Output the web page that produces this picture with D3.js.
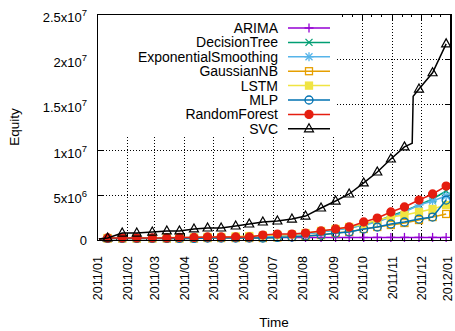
<!DOCTYPE html>
<html>
<head>
<meta charset="utf-8">
<script src="https://cdn.jsdelivr.net/npm/d3@7"></script>
<style>
body { margin: 0; background: #fff; }
text { font-family: "Liberation Sans", Arial, sans-serif; fill: #000; }
</style>
</head>
<body>
<div id="chart"></div>
<script>
var seriesNames = ["ARIMA", "DecisionTree", "ExponentialSmoothing", "GaussianNB", "LSTM", "MLP", "RandomForest", "SVC"]
var seriesColors = ["#9400d3", "#009e73", "#56b4e9", "#e69f00", "#f0e442", "#0072b2", "#e51e10", "#000000"]
var seriesMarks = ["plus", "cross", "star", "square", "squareFill", "circle", "circleFill", "triangle"]

var startDate = "2011-01-03"
var startValues = [1e5, 1e5, 1e5, 1e5, 1e5, 1e5, 1e5, 1e5]

var markDates = ["2011-01-12", "2011-01-27", "2011-02-11", "2011-02-27", "2011-03-14", "2011-03-27", "2011-04-11",
    "2011-04-25", "2011-05-09", "2011-05-24", "2011-06-07", "2011-06-21", "2011-07-06", "2011-07-21", "2011-08-04",
    "2011-08-20", "2011-09-04", "2011-09-18", "2011-10-03", "2011-10-17", "2011-10-31", "2011-11-14", "2011-11-29",
    "2011-12-13", "2011-12-27"]

var arima = [2.2e5, 2.5e5, 2.5e5, 2.6e5, 2.6e5, 2.6e5, 2.7e5, 2.7e5, 2.7e5, 2.7e5, 2.7e5, 2.7e5, 2.8e5, 2.8e5, 2.8e5,
    2.8e5, 2.8e5, 2.8e5, 2.8e5, 2.9e5, 2.9e5, 2.9e5, 2.9e5, 2.9e5, 2.9e5]
var decisionTree = [2.2e5, 2.2e5, 2.2e5, 2.2e5, 2.2e5, 2.2e5, 2.8e5, 2.8e5, 3.3e5, 3.3e5, 3.9e5, 4.4e5, 5.0e5, 5.5e5, 6.6e5,
    8.9e5, 1.11e6, 1.33e6, 1.66e6, 2.10e6, 2.65e6, 3.21e6, 3.87e6, 4.54e6, 5.42e6]
var expSmoothing = [2.2e5, 2.2e5, 2.2e5, 2.2e5, 2.2e5, 2.2e5, 2.2e5, 2.8e5, 2.8e5, 3.3e5, 3.3e5, 3.9e5, 4.4e5, 5.5e5, 6.6e5,
    8.9e5, 1.11e6, 1.33e6, 1.66e6, 1.99e6, 2.54e6, 3.10e6, 3.87e6, 4.31e6, 4.87e6]
var gaussianNB = [1.7e5, 1.7e5, 1.7e5, 1.7e5, 1.7e5, 1.7e5, 1.7e5, 2.2e5, 2.2e5, 2.2e5, 2.2e5, 2.2e5, 2.8e5, 3.3e5, 4.4e5,
    5.5e5, 7.7e5, 9.0e5, 1.22e6, 1.44e6, 1.66e6, 1.88e6, 2.21e6, 2.54e6, 2.88e6]
var lstm = [2.2e5, 2.2e5, 2.2e5, 2.2e5, 2.8e5, 2.8e5, 2.8e5, 3.3e5, 3.3e5, 3.9e5, 4.4e5, 5.0e5, 5.5e5, 6.1e5, 7.7e5,
    1.0e6, 1.22e6, 1.44e6, 1.77e6, 2.21e6, 2.54e6, 2.77e6, 3.10e6, 3.43e6, 3.87e6]
var mlp = [1.7e5, 1.7e5, 1.7e5, 1.7e5, 1.7e5, 1.7e5, 1.7e5, 2.2e5, 2.2e5, 2.2e5, 2.2e5, 2.2e5, 2.8e5, 3.3e5, 4.4e5,
    5.5e5, 7.7e5, 8.9e5, 1.22e6, 1.44e6, 1.77e6, 1.99e6, 2.32e6, 2.54e6, 4.42e6]
var randomForest = [2.2e5, 2.2e5, 2.2e5, 2.2e5, 2.2e5, 2.8e5, 2.8e5, 3.3e5, 3.3e5, 3.3e5, 3.3e5, 5.5e5, 6.6e5, 6.6e5, 7.7e5,
    1.0e6, 1.22e6, 1.44e6, 1.99e6, 2.43e6, 3.10e6, 3.65e6, 4.42e6, 5.09e6, 5.97e6]
var svc = [2.2e5, 7.7e5, 7.7e5, 8.8e5, 1.0e6, 1.0e6, 1.22e6, 1.33e6, 1.33e6, 1.55e6, 1.77e6, 1.99e6, 2.1e6, 2.32e6, 2.65e6,
    3.54e6, 4.31e6, 5.09e6, 6.31e6, 7.52e6, 8.96e6, 1.03e7, 1.67e7, 1.85e7, 2.17e7]

// the big jump in SVC happens between two markers
var svcExtraDates = ["2011-11-20", "2011-11-22", "2011-11-23"]
var svcExtraValues = [1.06e7, 1.07e7, 1.59e7]

var yTicks = [0, 5e6, 1e7, 1.5e7, 2e7, 2.5e7]
var yTickBase = ["0", "5x10", "1x10", "1.5x10", "2x10", "2.5x10"]
var yTickExp = ["", "6", "7", "7", "7", "7"]
var xTickDates = ["2011-01-01", "2011-02-01", "2011-03-01", "2011-04-01", "2011-05-01", "2011-06-01", "2011-07-01",
    "2011-08-01", "2011-09-01", "2011-10-01", "2011-11-01", "2011-12-01", "2012-01-01"]
var xTickLabels = ["2011/01", "2011/02", "2011/03", "2011/04", "2011/05", "2011/06", "2011/07",
    "2011/08", "2011/09", "2011/10", "2011/11", "2011/12", "2012/01"]

var seriesValues = [arima, decisionTree, expSmoothing, gaussianNB, lstm, mlp, randomForest, svc]

var width = 455
var height = 331
var pLeft = 97, pRight = 451, pTop = 14, pBottom = 240
var parse = d3.timeParse("%Y-%m-%d")

var svg = d3.select("#chart").append("svg").attr("width", width).attr("height", height)

var x = d3.scaleTime().domain([parse("2011-01-01"), parse("2012-01-01")]).range([pLeft, pRight])
var y = d3.scaleLinear().domain([0, 2.5e7]).range([pBottom, pTop])

// grid
var grid = svg.append("g").attr("stroke", "#000").attr("stroke-width", 1).attr("stroke-dasharray", "1,2")
grid.selectAll(".vg").data(xTickDates.slice(1, -1)).enter().append("line")
    .attr("x1", function(d) { return Math.round(x(parse(d))) + 0.5 })
    .attr("x2", function(d) { return Math.round(x(parse(d))) + 0.5 })
    .attr("y1", pTop).attr("y2", pBottom)
grid.selectAll(".hg").data(yTicks.slice(1, -1)).enter().append("line")
    .attr("x1", pLeft).attr("x2", pRight)
    .attr("y1", function(d) { return Math.round(y(d)) + 0.5 })
    .attr("y2", function(d) { return Math.round(y(d)) + 0.5 })

// ticks
var ticks = svg.append("g").attr("stroke", "#000").attr("stroke-width", 1)
var minorDates = []
d3.timeMonths(parse("2011-01-01"), parse("2012-01-01")).forEach(function(m) {
    minorDates.push(d3.timeDay.offset(m, 10))
    minorDates.push(d3.timeDay.offset(m, 20))
})
xTickDates.forEach(function(d) {
    var px = Math.round(x(parse(d))) + 0.5
    ticks.append("line").attr("x1", px).attr("x2", px).attr("y1", pBottom).attr("y2", pBottom - 6)
    ticks.append("line").attr("x1", px).attr("x2", px).attr("y1", pTop).attr("y2", pTop + 6)
})
minorDates.forEach(function(d) {
    var px = Math.round(x(d)) + 0.5
    ticks.append("line").attr("x1", px).attr("x2", px).attr("y1", pBottom).attr("y2", pBottom - 3)
    ticks.append("line").attr("x1", px).attr("x2", px).attr("y1", pTop).attr("y2", pTop + 3)
})
yTicks.forEach(function(v) {
    var py = Math.round(y(v)) + 0.5
    ticks.append("line").attr("x1", pLeft).attr("x2", pLeft + 6).attr("y1", py).attr("y2", py)
    ticks.append("line").attr("x1", pRight).attr("x2", pRight - 6).attr("y1", py).attr("y2", py)
})

// tick labels
yTicks.forEach(function(v, i) {
    var t = svg.append("text").attr("x", 87).attr("text-anchor", "end").style("font-size", "13px")
    if (yTickExp[i] == "") {
        t.attr("y", y(v) + 4.5).text(yTickBase[i])
    } else {
        t.attr("y", y(v) + 8).text(yTickBase[i])
        t.append("tspan").attr("dy", -6).style("font-size", "9.5px").text(yTickExp[i])
    }
})
xTickDates.forEach(function(d, i) {
    var px = Math.min(x(parse(d)) + 0.5, 448)
    svg.append("text")
        .attr("transform", "translate(" + px + ",256) rotate(-90)")
        .attr("text-anchor", "end").attr("dy", "0.35em")
        .style("font-size", "12.5px")
        .text(xTickLabels[i])
})

svg.append("text").attr("transform", "translate(14," + ((pTop + pBottom) / 2) + ") rotate(-90)")
    .attr("text-anchor", "middle").attr("dy", "0.35em").style("font-size", "13.5px").text("Equity")
svg.append("text").attr("x", (pLeft + pRight) / 2).attr("y", 327)
    .attr("text-anchor", "middle").style("font-size", "13.5px").text("Time")

function drawMark(g, kind, cx, cy, color) {
    if (kind == "plus" || kind == "star") {
        g.append("line").attr("x1", cx - 4.5).attr("x2", cx + 4.5).attr("y1", cy).attr("y2", cy).attr("stroke", color).attr("stroke-width", 1.3)
        g.append("line").attr("x1", cx).attr("x2", cx).attr("y1", cy - 4.5).attr("y2", cy + 4.5).attr("stroke", color).attr("stroke-width", 1.3)
    }
    if (kind == "cross" || kind == "star") {
        g.append("line").attr("x1", cx - 3.5).attr("x2", cx + 3.5).attr("y1", cy - 3.5).attr("y2", cy + 3.5).attr("stroke", color).attr("stroke-width", 1.3)
        g.append("line").attr("x1", cx - 3.5).attr("x2", cx + 3.5).attr("y1", cy + 3.5).attr("y2", cy - 3.5).attr("stroke", color).attr("stroke-width", 1.3)
    }
    if (kind == "square" || kind == "squareFill") {
        g.append("rect").attr("x", cx - 3.5).attr("y", cy - 3.5).attr("width", 7).attr("height", 7)
            .attr("fill", kind == "squareFill" ? color : "none").attr("stroke", color).attr("stroke-width", 1.3)
    }
    if (kind == "circle" || kind == "circleFill") {
        g.append("circle").attr("cx", cx).attr("cy", cy).attr("r", 4)
            .attr("fill", kind == "circleFill" ? color : "none").attr("stroke", color).attr("stroke-width", 1.3)
    }
    if (kind == "triangle") {
        g.append("path").attr("d", "M" + cx + "," + (cy - 5) + "L" + (cx + 4.5) + "," + (cy + 3) + "L" + (cx - 4.5) + "," + (cy + 3) + "Z")
            .attr("fill", "none").attr("stroke", color).attr("stroke-width", 1.2)
    }
}

var line = d3.line().x(function(d) { return x(d[0]) }).y(function(d) { return y(d[1]) })
var plot = svg.append("g")

for (var s = 0; s < seriesNames.length; s++) {
    var pts = [[parse(startDate), startValues[s]]]
    for (var i = 0; i < markDates.length; i++) {
        pts.push([parse(markDates[i]), seriesValues[s][i]])
    }
    if (seriesNames[s] == "SVC") {
        for (var k = 0; k < svcExtraDates.length; k++) {
            pts.push([parse(svcExtraDates[k]), svcExtraValues[k]])
        }
        pts.sort(function(a, b) { return a[0] - b[0] })
    }
    var g = plot.append("g")
    g.append("path").datum(pts).attr("d", line).attr("fill", "none")
        .attr("stroke", seriesColors[s]).attr("stroke-width", 1.5)
    for (var i = 0; i < markDates.length; i++) {
        drawMark(g, seriesMarks[s], x(parse(markDates[i])), y(seriesValues[s][i]), seriesColors[s])
    }
}

// frame
svg.append("rect").attr("x", pLeft + 0.5).attr("y", pTop + 0.5).attr("width", pRight - pLeft - 1).attr("height", pBottom - pTop)
    .attr("fill", "none").attr("stroke", "#000").attr("stroke-width", 1)
svg.append("line").attr("x1", pRight).attr("x2", pRight).attr("y1", pTop).attr("y2", pBottom + 1)
    .attr("stroke", "#000").attr("stroke-width", 2)

// legend (opaque box)
var legend = svg.append("g")
legend.append("rect").attr("x", pLeft + 1).attr("y", pTop + 1).attr("width", 238).attr("height", 122).attr("fill", "#fff")
seriesNames.forEach(function(name, i) {
    var ly = 28 + i * 14.4
    legend.append("text").attr("x", 278).attr("y", ly).attr("dy", "0.35em").attr("text-anchor", "end")
        .style("font-size", "14px").text(name)
    legend.append("line").attr("x1", 288).attr("x2", 330).attr("y1", ly).attr("y2", ly)
        .attr("stroke", seriesColors[i]).attr("stroke-width", 1.5)
    drawMark(legend, seriesMarks[i], 309, ly, seriesColors[i])
})
</script>
</body>
</html>
